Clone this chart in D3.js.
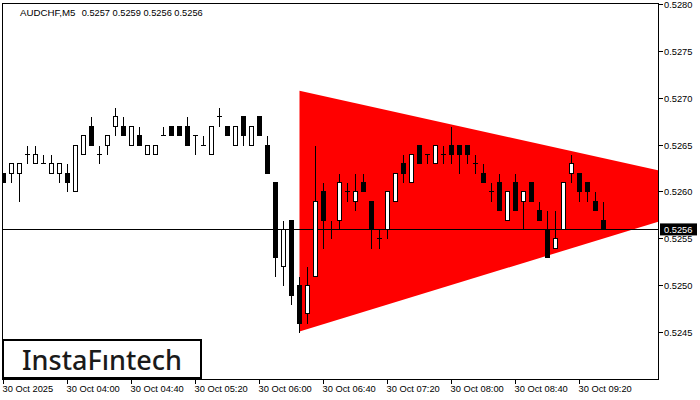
<!DOCTYPE html>
<html><head><meta charset="utf-8">
<script src="https://cdn.jsdelivr.net/npm/d3@7"></script>
<style>body{margin:0;background:#fff}svg{display:block}</style>
</head><body>
<svg id="c" width="700" height="400"></svg>
<script>
const symbolName = "AUDCHF,M5";
const titleValues = ["0.5257","0.5259","0.5256","0.5256"];
const opens  = [.5262,.5262,.5262,.5264,.5263,.5263,.5262,.5262,.5262,.5260,.5264,.5267,.5264,.5265,.5267,.5267,.5265,.5266,.5264,.5264,.5266,.5267,.5267,.5267,.5266,.5265,.5264,.5268,.5267,.5265,.5268,.5265,.5268,.5265,.5261,.5252,.5257,.5250,.5247,.5251,.5260,.5256,.5257,.5260,.5259,.5261,.5259,.5255,.5256,.5259,.5263,.5261,.5265,.5264,.5263,.5264,.5265,.5265,.5265,.5263,.5262,.5260,.5261,.5257,.5261,.5259,.5261,.5258,.5256,.5254,.5256,.5262,.5262,.5261,.5259,.5257];
const highs  = [.5262,.5263,.5263,.5265,.5265,.5264,.5264,.5263,.5263,.5265,.5266,.5268,.5265,.5266,.5269,.5268,.5267,.5267,.5265,.5265,.5267,.5267,.5267,.5268,.5266,.5266,.5267,.5269,.5267,.5267,.5268,.5267,.5268,.5266,.5261,.5257,.5257,.5251,.5252,.5265,.5261,.5257,.5262,.5261,.5262,.5262,.5259,.5256,.5260,.5262,.5264,.5264,.5265,.5264,.5265,.5265,.5267,.5265,.5265,.5264,.5263,.5261,.5262,.5260,.5262,.5260,.5261,.5259,.5258,.5258,.5261,.5264,.5262,.5261,.5260,.5259];
const lows   = [.5261,.5261,.5259,.5263,.5263,.5263,.5262,.5261,.5260,.5260,.5264,.5265,.5263,.5264,.5266,.5266,.5265,.5265,.5264,.5264,.5266,.5266,.5266,.5265,.5264,.5265,.5264,.5267,.5266,.5265,.5265,.5265,.5266,.5262,.5251,.5250,.5248,.5245,.5246,.5251,.5254,.5255,.5256,.5259,.5258,.5260,.5254,.5254,.5255,.5259,.5261,.5261,.5263,.5263,.5263,.5263,.5263,.5262,.5263,.5262,.5261,.5259,.5258,.5257,.5258,.5256,.5259,.5257,.5253,.5254,.5256,.5261,.5259,.5259,.5258,.5256];
const closes = [.5261,.5263,.5263,.5264,.5264,.5263,.5263,.5263,.5261,.5265,.5266,.5265,.5264,.5266,.5268,.5266,.5267,.5265,.5265,.5265,.5266,.5266,.5266,.5265,.5266,.5265,.5267,.5268,.5266,.5267,.5266,.5267,.5266,.5262,.5253,.5256,.5249,.5246,.5250,.5259,.5257,.5256,.5261,.5260,.5260,.5260,.5256,.5255,.5260,.5262,.5262,.5264,.5263,.5264,.5265,.5264,.5264,.5264,.5264,.5263,.5261,.5260,.5258,.5260,.5258,.5260,.5259,.5257,.5253,.5255,.5261,.5263,.5260,.5260,.5258,.5256];
const priceTicks = [0.5245,0.5250,0.5255,0.5260,0.5265,0.5270,0.5275,0.5280];
const timeTickBars = [0,8,16,24,32,40,48,56,64,72];
const timeTickLabels = ["30 Oct 2025","30 Oct 04:00","30 Oct 04:40","30 Oct 05:20","30 Oct 06:00","30 Oct 06:40","30 Oct 07:20","30 Oct 08:00","30 Oct 08:40","30 Oct 09:20"];
const currentPrice = 0.5256;
const triangleBars = [37, 94, 37];
const trianglePrices = [0.52708, 0.52600, 0.52451];
const logoText = "InstaF\u0131ntech";

const svg = d3.select("#c");
const L = 2, R = 659, T = 3, B = 379;
const x = d3.scaleLinear().domain([0, 82]).range([3.5, 659.5]);
const y = d3.scaleLinear().domain([0.5245, 0.5280]).range([332.5, 4.5]);
const font = "'Liberation Sans', Arial, sans-serif";
const snap = v => Math.round(v - 0.5) + 0.5;

svg.append("defs").append("clipPath").attr("id","plot")
  .append("rect").attr("x",L).attr("y",T).attr("width",R-L).attr("height",B-T);

const g = svg.append("g").attr("clip-path","url(#plot)");

// triangle
g.append("polygon")
  .attr("points", triangleBars.map((b,i)=>[x(b), y(trianglePrices[i])].join(",")).join(" "))
  .attr("fill","#ff0000");

// current price line
g.append("line").attr("x1",L).attr("x2",R)
  .attr("y1",snap(y(currentPrice))).attr("y2",snap(y(currentPrice)))
  .attr("stroke","#000").attr("stroke-width",1);

// candles
const data = opens.map((o,i)=>({i,o,h:highs[i],l:lows[i],c:closes[i]}));
const cg = g.append("g").attr("shape-rendering","crispEdges");
data.forEach(d=>{
  const cx = x(d.i);
  const yh = snap(y(d.h)), yl = snap(y(d.l));
  const yo = snap(y(d.o)), yc = snap(y(d.c));
  cg.append("line").attr("x1",cx).attr("x2",cx).attr("y1",yh).attr("y2",yl)
    .attr("stroke","#000").attr("stroke-width",1);
  if (d.o === d.c) {
    cg.append("line").attr("x1",cx-2.5).attr("x2",cx+2.5).attr("y1",yo).attr("y2",yo)
      .attr("stroke","#000").attr("stroke-width",1);
  } else {
    const top = Math.min(yo,yc), bot = Math.max(yo,yc);
    cg.append("rect").attr("x",cx-2).attr("y",top).attr("width",4).attr("height",bot-top)
      .attr("fill", d.c > d.o ? "#fff" : "#000").attr("stroke","#000").attr("stroke-width",1);
  }
});

// frame
svg.append("rect").attr("x",L+0.5).attr("y",T+0.5).attr("width",R-L-1).attr("height",B-T)
  .attr("fill","none").attr("stroke","#000").attr("stroke-width",1).attr("shape-rendering","crispEdges");

// price axis
const ya = svg.append("g").attr("font-family",font).attr("font-size","9.3px").attr("fill","#000");
priceTicks.forEach(p=>{
  const yy = snap(y(p));
  ya.append("line").attr("x1",R).attr("x2",R+4).attr("y1",yy).attr("y2",yy).attr("stroke","#000").attr("shape-rendering","crispEdges");
  ya.append("text").attr("x",R+5).attr("y",yy).attr("dy","0.35em").text(p.toFixed(4));
});
// current price label
const cpY = y(currentPrice);
ya.append("rect").attr("x",660).attr("y",cpY-6).attr("width",37).attr("height",12).attr("fill","#000");
ya.append("text").attr("x",R+5).attr("y",cpY).attr("dy","0.35em").attr("fill","#fff").text(currentPrice.toFixed(4));

// time axis
const xa = svg.append("g").attr("font-family",font).attr("font-size","9.3px").attr("fill","#000");
timeTickBars.forEach((b,i)=>{
  const xx = x(b);
  xa.append("line").attr("x1",xx).attr("x2",xx).attr("y1",B).attr("y2",B+5).attr("stroke","#000").attr("shape-rendering","crispEdges");
  xa.append("text").attr("x",xx-1).attr("y",392).text(timeTickLabels[i]);
});

// title
const tg = svg.append("g").attr("font-family",font).attr("font-size","9.6px").attr("fill","#000");
tg.append("text").attr("x",20).attr("y",16).attr("textLength",55.5).attr("lengthAdjust","spacingAndGlyphs").text(symbolName);
tg.append("text").attr("x",81.7).attr("y",16).attr("textLength",121).attr("lengthAdjust","spacingAndGlyphs").text(titleValues.join(" "));

// logo
svg.append("rect").attr("x",3).attr("y",340).attr("width",198).attr("height",38)
  .attr("fill","#fff").attr("stroke","#000").attr("stroke-width",2);
svg.append("text").attr("x",22).attr("y",369.5).attr("font-family","'Noto Sans', sans-serif")
  .attr("font-size","27px").attr("font-weight",500).attr("fill","#1a1a1a")
  .attr("textLength",160).attr("lengthAdjust","spacingAndGlyphs").text(logoText);
</script>
</body></html>
